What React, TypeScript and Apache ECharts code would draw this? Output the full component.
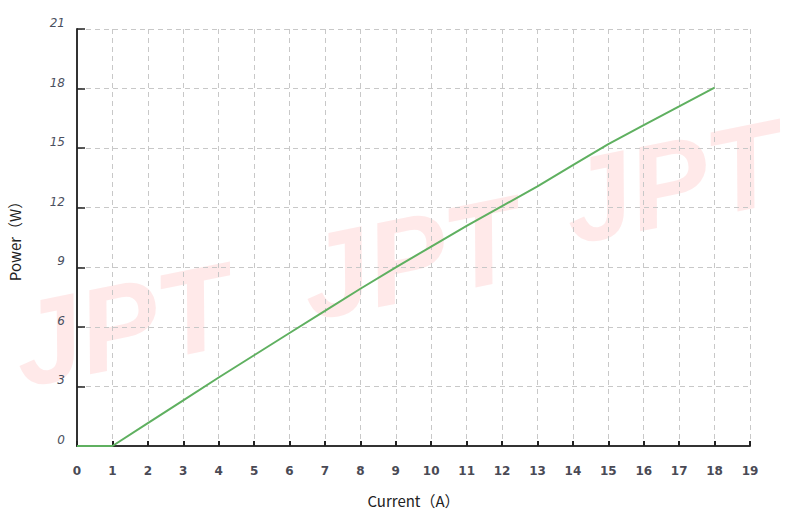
import React, { useEffect, useRef } from "react";
import * as echarts from "echarts";

const currentA = [0, 1, 2, 3, 4, 5, 6, 7, 8, 9, 10, 11, 12, 13, 14, 15, 16, 17, 18];
const powerW = [0, 0, 1.15, 2.3, 3.45, 4.57, 5.69, 6.8, 7.92, 9.0, 10.04, 11.08, 12.08, 13.08, 14.15, 15.2, 16.16, 17.1, 18.05];
const watermarks = ["JPT", "JPT", "JPT"];

export default function App() {
  const ref = useRef<HTMLDivElement>(null);
  useEffect(() => {
    if (!ref.current) return;
    const chart = echarts.init(ref.current, null, { renderer: "svg" });
    const pos = [
      [122, 325],
      [410, 258],
      [672, 182],
    ];
    chart.setOption({
      animation: false,
      backgroundColor: "#ffffff",
      grid: { left: 77, right: 45, top: 29, bottom: 70, outerBoundsMode: "none", containLabel: false },
      graphic: {
        elements: watermarks.map((t, i) => ({
          type: "text",
          x: pos[i][0],
          y: pos[i][1],
          rotation: 0.2,
          z: -10,
          silent: true,
          style: {
            text: t,
            fontSize: 120,
            fontWeight: 900,
            fontStyle: "italic",
            fontFamily: "Liberation Sans",
            fill: "rgba(255, 70, 70, 0.12)",
            textAlign: "center",
            textVerticalAlign: "middle",
          },
        })),
      },
      xAxis: {
        type: "value",
        min: 0,
        max: 19,
        interval: 1,
        name: "Current（A）",
        nameLocation: "middle",
        nameGap: 47,
        nameTextStyle: { fontSize: 15, color: "#222", fontFamily: "Noto Sans CJK SC" },
        axisLine: { show: true, lineStyle: { color: "#333", width: 2 } },
        axisTick: { show: true, inside: true, length: 5, lineStyle: { color: "#222", width: 2 } },
        axisLabel: {
          margin: 19,
          fontSize: 12,
          fontWeight: "bold",
          color: "#4a4a55",
          fontFamily: "DejaVu Sans",
        },
        splitLine: { show: true, lineStyle: { color: "#c8c8c8", type: [5, 4], width: 1 } },
      },
      yAxis: {
        type: "value",
        min: 0,
        max: 21,
        interval: 3,
        name: "Power（W）",
        nameLocation: "middle",
        nameGap: 55,
        nameTextStyle: { fontSize: 15, color: "#222", fontFamily: "Noto Sans CJK SC" },
        axisLine: { show: true, lineStyle: { color: "#333", width: 2 } },
        axisTick: { show: true, inside: true, length: 8, lineStyle: { color: "#222", width: 1.5 } },
        axisLabel: {
          margin: 12,
          fontSize: 12,
          fontStyle: "italic",
          color: "#4a5060",
          fontFamily: "DejaVu Sans",
          verticalAlign: "bottom",
        },
        splitLine: { show: true, lineStyle: { color: "#c8c8c8", type: [5, 4], width: 1 } },
      },
      series: [
        {
          type: "line",
          data: currentA.map((x, i) => [x, powerW[i]]),
          showSymbol: false,
          symbol: "none",
          z: 5,
          lineStyle: { color: "#5fb060", width: 2 },
        },
      ],
    });
    return () => chart.dispose();
  }, []);
  return <div ref={ref} style={{ width: 795, height: 516, position: "absolute", left: 0, top: 0 }} />;
}
